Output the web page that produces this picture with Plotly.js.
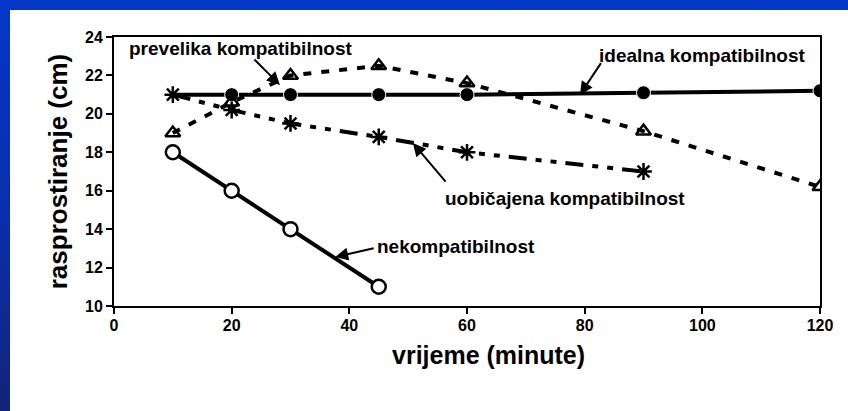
<!DOCTYPE html>
<html>
<head>
<meta charset="utf-8">
<script src="https://cdn.plot.ly/plotly-3.0.1.min.js"></script>
<style>
html,body{margin:0;padding:0;width:848px;height:411px;overflow:hidden;
background:linear-gradient(to bottom,#0537c8 0%,#0a2fae 50%,#122479 100%);}
#chart{position:absolute;left:10px;top:10px;width:838px;height:401px;background:#fff;}
</style>
</head>
<body>
<div id="chart"></div>
<script>
// ---- data ----
var xTicks = [0, 20, 40, 60, 80, 100, 120];
var yTicks = [10, 12, 14, 16, 18, 20, 22, 24];

var idealnaX = [10, 20, 30, 45, 60, 90, 120];
var idealnaY = [21, 21, 21, 21, 21, 21.1, 21.2];

var prevelikaX = [10, 20, 30, 45, 60, 90, 120];
var prevelikaY = [19, 20.6, 22, 22.5, 21.6, 19.1, 16.2];

var uobicajenaX = [10, 20, 30, 45, 60, 90];
var uobicajenaY = [21, 20.2, 19.5, 18.8, 18, 17];

var nekompatX = [10, 20, 30, 45];
var nekompatY = [18, 16, 14, 11];

var labels = {
  prevelika: 'prevelika kompatibilnost',
  idealna: 'idealna kompatibilnost',
  uobicajena: 'uobičajena kompatibilnost',
  nekompat: 'nekompatibilnost'
};
var xTitle = 'vrijeme (minute)';
var yTitle = 'rasprostiranje (cm)';

// ---- styles ----
var FONT = 'Liberation Sans, Arial, sans-serif';
var idealnaSizes = idealnaX.map(function(v, i){ return i === 0 ? 0 : 14; });

var traces = [
  {x: idealnaX, y: idealnaY, mode: 'lines+markers', name: labels.idealna,
   line: {color: '#000', width: 4},
   marker: {symbol: 'circle', size: idealnaSizes, color: '#000', opacity: 1}},
  {x: prevelikaX, y: prevelikaY, mode: 'lines+markers', name: labels.prevelika,
   line: {color: '#000', width: 4, dash: '8px,10px'},
   marker: {symbol: 'triangle-up-open', size: 13, color: '#000', line: {width: 2.5, color: '#000'}}},
  {x: uobicajenaX, y: uobicajenaY, mode: 'lines+markers', name: labels.uobicajena,
   line: {color: '#000', width: 4, dash: '18px,9px,6px,9px,6px,9px'},
   marker: {symbol: 'asterisk-open', size: 14, color: '#000', line: {width: 2.5, color: '#000'}}},
  {x: nekompatX, y: nekompatY, mode: 'lines+markers', name: labels.nekompat,
   line: {color: '#000', width: 4},
   marker: {symbol: 'circle', size: 14, color: '#fff', line: {width: 2.5, color: '#000'}}}
];

var txtFont = {family: FONT, size: 19, color: '#000'};
function arrow(x, y, ax, ay){
  return {x: x, y: y, xref: 'x', yref: 'y', ax: ax, ay: ay, text: '', showarrow: true,
          arrowhead: 2, arrowsize: 1.3, arrowwidth: 2, arrowcolor: '#000'};
}
var annotations = [
  {x: 2.2, y: 23.38, xref: 'x', yref: 'y', xanchor: 'left', yanchor: 'middle', text: '<b>' + labels.prevelika + '</b>', showarrow: false, font: txtFont},
  {x: 118, y: 23.06, xref: 'x', yref: 'y', xanchor: 'right', yanchor: 'middle', text: '<b>' + labels.idealna + '</b>', showarrow: false, font: txtFont},
  {x: 55.9, y: 15.57, xref: 'x', yref: 'y', xanchor: 'left', yanchor: 'middle', text: '<b>' + labels.uobicajena + '</b>', showarrow: false, font: txtFont},
  {x: 44.4, y: 13.12, xref: 'x', yref: 'y', xanchor: 'left', yanchor: 'middle', text: '<b>' + labels.nekompat + '</b>', showarrow: false, font: txtFont},
  arrow(28.2, 21.5, -27, -27),
  arrow(79.2, 21.0, 22, -33),
  arrow(50.8, 18.48, 34, 40),
  arrow(37.6, 12.55, 40, -9),
  {x: 0.53, y: -0.182, xref: 'paper', yref: 'paper', xanchor: 'center', yanchor: 'middle', showarrow: false,
   text: '<b>' + xTitle + '</b>', font: {family: FONT, size: 25, color: '#000'}}
];

function bold(arr){ return arr.map(function(v){ return '<b>' + v + '</b>'; }); }

var tickFont = {family: FONT, size: 16, color: '#000', weight: 700};
var layout = {
  width: 838, height: 401,
  margin: {l: 104, r: 28, t: 27, b: 105},
  paper_bgcolor: '#fff', plot_bgcolor: '#fff',
  showlegend: false,
  font: {family: FONT, color: '#000'},
  xaxis: {range: [0, 120], tickvals: xTicks, ticktext: bold(xTicks),
          showgrid: false, zeroline: false, showline: true, linecolor: '#000', linewidth: 2, mirror: true,
          ticks: 'outside', ticklen: 6, tickwidth: 2, tickcolor: '#000', ticklabelstandoff: -2,
          tickfont: tickFont},
  yaxis: {range: [10, 24], tickvals: yTicks, ticktext: bold(yTicks),
          showgrid: false, zeroline: false, showline: true, linecolor: '#000', linewidth: 2, mirror: true,
          ticks: 'outside', ticklen: 6, tickwidth: 2, tickcolor: '#000',
          tickfont: tickFont,
          title: {text: '<b>' + yTitle + '</b>', font: {family: FONT, size: 26, color: '#000'}, standoff: 10}},
  annotations: annotations
};

Plotly.newPlot('chart', traces, layout, {displayModeBar: false, staticPlot: true});
</script>
</body>
</html>
